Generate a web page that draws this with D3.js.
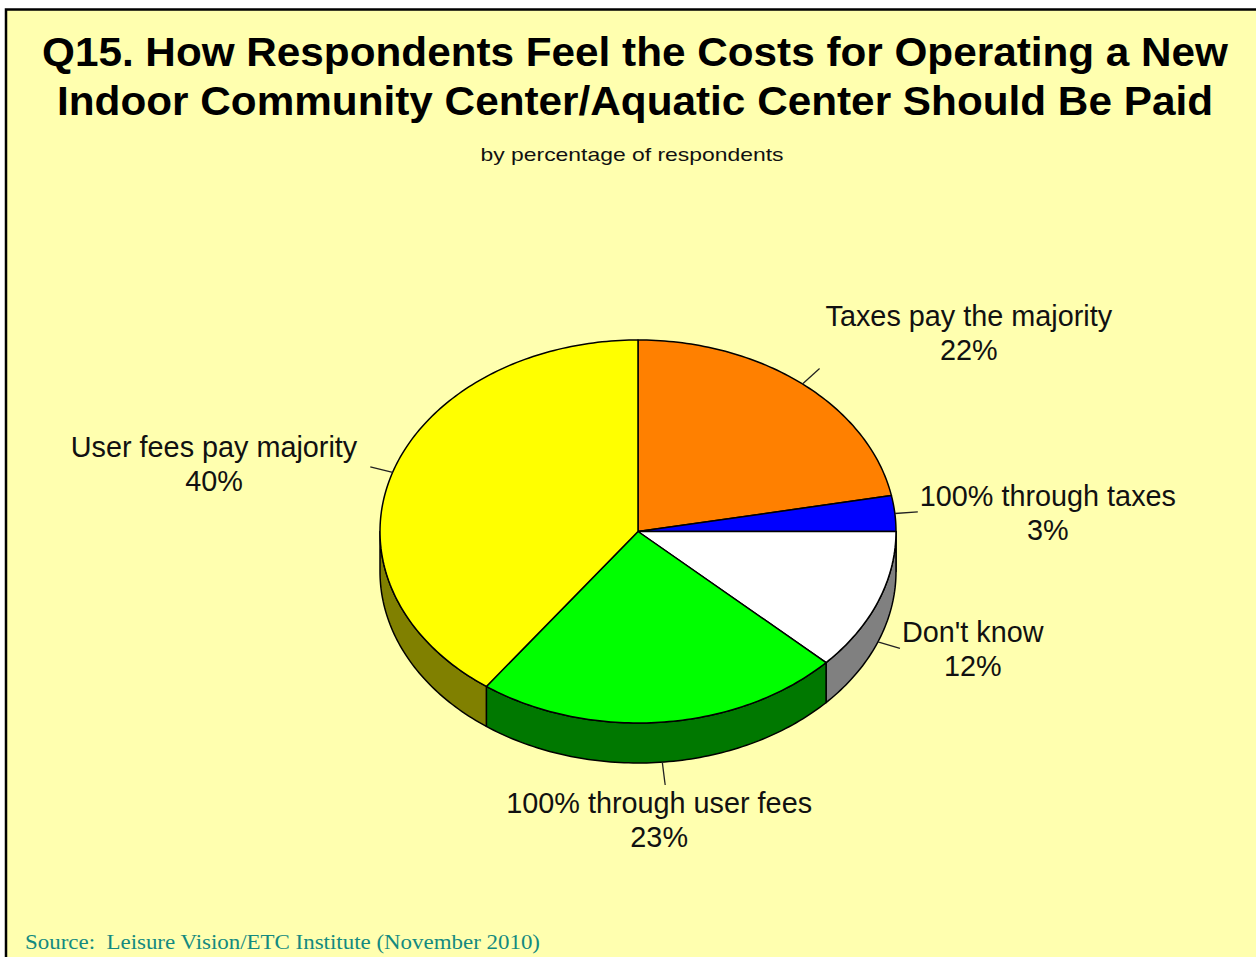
<!DOCTYPE html>
<html>
<head>
<meta charset="utf-8">
<script src="https://cdn.jsdelivr.net/npm/d3@7/dist/d3.min.js"></script>
<style>
  html, body { margin: 0; padding: 0; background: #ffffff; }
  svg { display: block; }
</style>
</head>
<body>
<script>
// Survey responses, clockwise from 12 o'clock
const categories = [
  "Taxes pay the majority",
  "100% through taxes",
  "Don't know",
  "100% through user fees",
  "User fees pay majority"
];
const values = [22, 3, 12, 23, 40];
const valueLabels = ["22%", "3%", "12%", "23%", "40%"];
const topColors = ["#FF8000", "#0000FF", "#FFFFFF", "#00FF00", "#FFFF00"];
const sideColors = ["#804000", "#000080", "#808080", "#007800", "#808000"];

const titleLines = [
  "Q15. How Respondents Feel the Costs for Operating a New",
  "Indoor Community Center/Aquatic Center Should Be Paid"
];
const subtitle = "by percentage of respondents";
const sourceText = "Source:  Leisure Vision/ETC Institute (November 2010)";

const W = 1256, H = 957;
const svg = d3.select("body").append("svg")
  .attr("width", W).attr("height", H);

// Page background and frame
svg.append("rect").attr("x", 0).attr("y", 0).attr("width", W).attr("height", H)
  .attr("fill", "#ffffff");
svg.append("rect").attr("x", 6).attr("y", 9.5).attr("width", W + 20).attr("height", H + 20)
  .attr("fill", "#FFFFAF").attr("stroke", "#000").attr("stroke-width", 2.5);

// Titles
const title = svg.append("g").attr("font-family", "'Liberation Sans', Arial, sans-serif")
  .attr("font-weight", "bold").attr("font-size", 41).attr("fill", "#000")
  .attr("text-anchor", "middle");
const titleWidths = [1186, 1156];
const titleBaselines = [66, 115];
titleLines.forEach((t, i) => {
  title.append("text").attr("x", 635).attr("y", titleBaselines[i])
    .attr("textLength", titleWidths[i]).attr("lengthAdjust", "spacingAndGlyphs")
    .text(t);
});
svg.append("text").attr("x", 632).attr("y", 161)
  .attr("font-family", "'Liberation Sans', Arial, sans-serif").attr("font-size", 19)
  .attr("text-anchor", "middle").attr("fill", "#111")
  .attr("textLength", 303).attr("lengthAdjust", "spacingAndGlyphs")
  .text(subtitle);

svg.append("text").attr("x", 25).attr("y", 949)
  .attr("font-family", "'Liberation Serif', 'Times New Roman', serif").attr("font-size", 21)
  .attr("fill", "#138A80").style("white-space", "pre")
  .attr("textLength", 515).attr("lengthAdjust", "spacingAndGlyphs")
  .text(sourceText);

// 3D pie geometry
const cx = 638, cy = 531.5, rx = 258, ry = 191.5, depth = 40;
const pt = (a, dy = 0) => [cx + rx * Math.sin(a), cy - ry * Math.cos(a) + dy];
const arcPoints = (a0, a1, dy = 0) => {
  const n = Math.max(2, Math.ceil(Math.abs(a1 - a0) / (Math.PI / 180)));
  return d3.range(n + 1).map(i => pt(a0 + (a1 - a0) * i / n, dy));
};
const line = d3.line().curve(d3.curveLinear);

const arcs = d3.pie().sort(null).value(d => d)(values);

const pie = svg.append("g");

// Side walls for the front half of the pie
arcs.forEach((a, i) => {
  const a0 = Math.max(a.startAngle, Math.PI / 2);
  const a1 = Math.min(a.endAngle, 3 * Math.PI / 2);
  if (a0 >= a1) return;
  const pts = arcPoints(a0, a1).concat(arcPoints(a1, a0, depth));
  pie.append("path")
    .attr("d", line(pts) + "Z")
    .attr("fill", sideColors[i])
    .attr("stroke", "#000").attr("stroke-width", 1.5).attr("stroke-linejoin", "round");
});

// Top faces
arcs.forEach((a, i) => {
  const pts = [[cx, cy]].concat(arcPoints(a.startAngle, a.endAngle));
  pie.append("path")
    .attr("d", line(pts) + "Z")
    .attr("fill", topColors[i])
    .attr("stroke", "#000").attr("stroke-width", 1.5).attr("stroke-linejoin", "round");
});

// Leader lines and labels
const labels = svg.append("g")
  .attr("font-family", "'Liberation Sans', Arial, sans-serif")
  .attr("font-size", 28.8).attr("fill", "#111");
const lineGap = 34;

arcs.forEach((a, i) => {
  const mid = (a.startAngle + a.endAngle) / 2;
  const s = Math.sin(mid), c = Math.cos(mid);
  const p0 = pt(mid, c < 0 ? depth : 0);
  let dx = s * rx, dy = -c * ry;
  const len = Math.hypot(dx, dy);
  dx /= len; dy /= len;
  const p1 = [p0[0] + dx * 23, p0[1] + dy * 23];
  svg.append("line")
    .attr("x1", p0[0]).attr("y1", p0[1]).attr("x2", p1[0]).attr("y2", p1[1])
    .attr("stroke", "#222").attr("stroke-width", 1.3);

  const g = labels.append("g").attr("text-anchor", "middle");
  const t1 = g.append("text").text(categories[i]);
  const t2 = g.append("text").text(valueLabels[i]);
  const w = Math.max(t1.node().getComputedTextLength(), t2.node().getComputedTextLength());

  let centerX, base1;
  if (c < 0 && Math.abs(s) < 0.35) {          // below the pie
    centerX = p1[0] - 6;
    base1 = p1[1] + 28;
  } else if (s > 0 && c > 0.5) {              // upper right, block sits above the line
    centerX = p1[0] + 6 + w / 2;
    base1 = p1[1] - 9 - lineGap;
  } else if (s > 0) {                          // right side
    centerX = p1[0] + 2 + w / 2;
    base1 = p1[1] - 6;
  } else {                                     // left side
    centerX = p1[0] - 13 - w / 2;
    base1 = p1[1] - 10;
  }
  t1.attr("x", centerX).attr("y", base1);
  t2.attr("x", centerX).attr("y", base1 + lineGap);
});
</script>
</body>
</html>
